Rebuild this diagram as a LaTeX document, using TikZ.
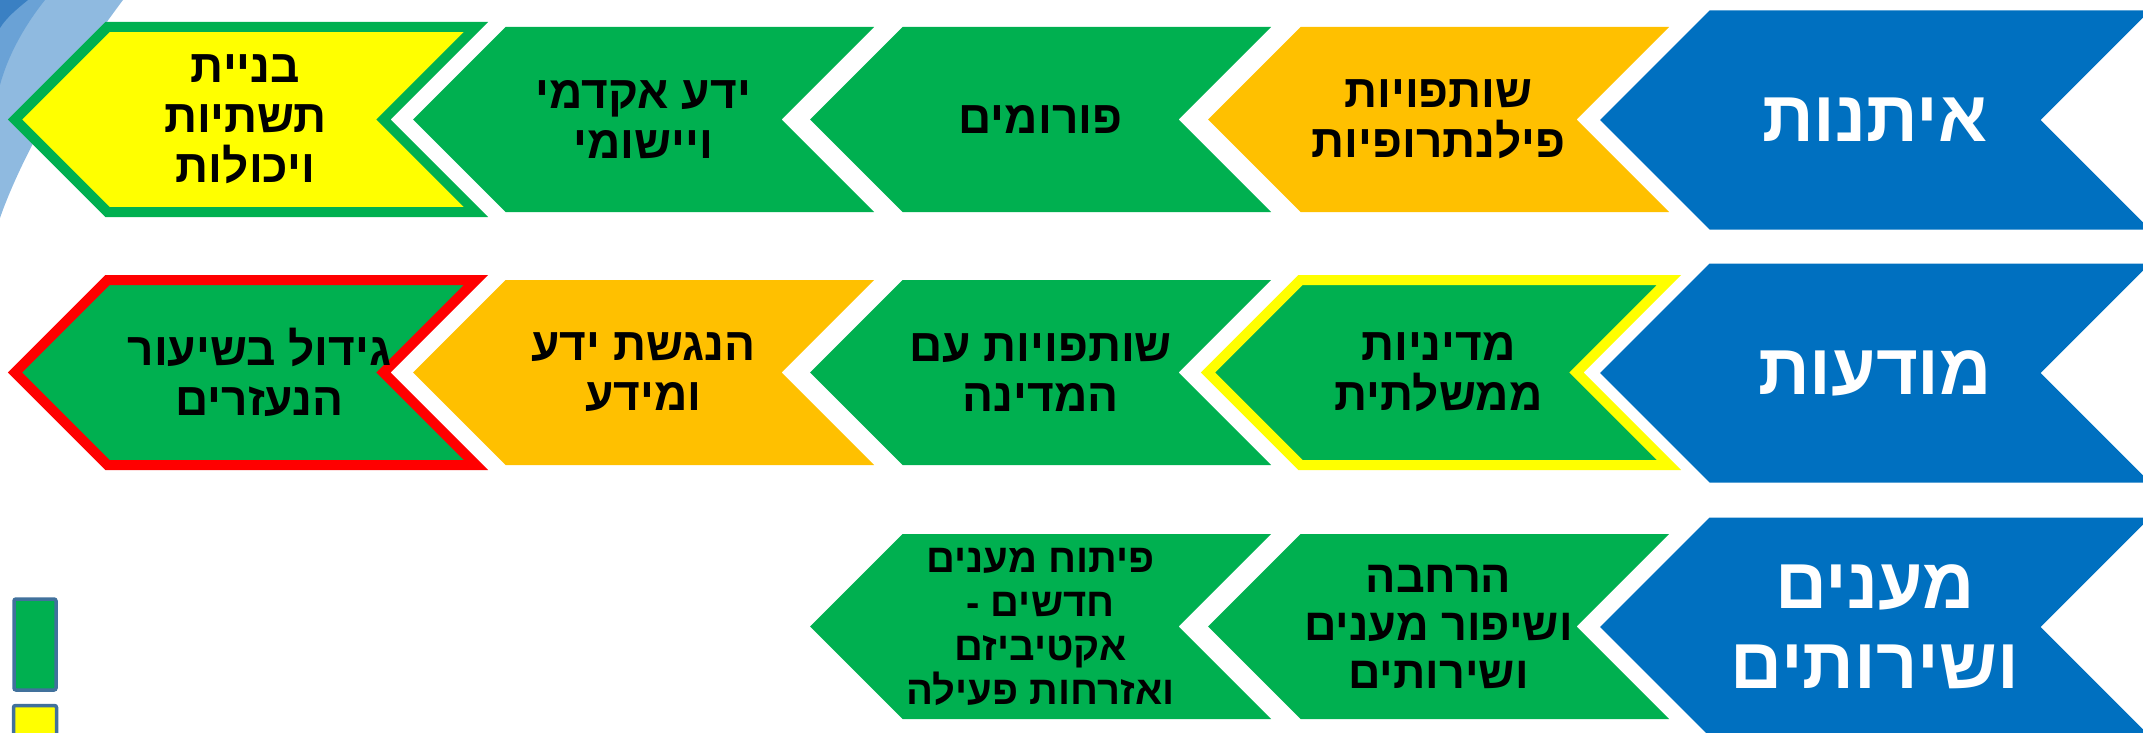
\documentclass[tikz,border=0pt]{standalone}
\usepackage{fontspec}
\usepackage{tikz}
\usetikzlibrary{positioning, calc}
\newfontfamily\hebfont[Script=Hebrew]{Liberation Sans}
\TeXXeTstate=1

\definecolor{headblue}{HTML}{0070C0}
\definecolor{grn}{HTML}{00B050}
\definecolor{orng}{HTML}{FFC000}
\definecolor{ylw}{HTML}{FFFF00}
\definecolor{rd}{HTML}{FF0000}
\definecolor{keyframe}{HTML}{41719C}
\definecolor{swooshlight}{HTML}{8FBAE0}
\definecolor{swooshmid}{HTML}{6AA2D6}
\definecolor{swooshdark}{HTML}{3A80C3}

% chevron: [style]{name}{tip x}{centre y}{half height}{width}
\newcommand{\chev}[6][]{%
	\path[#1] (#3,#4) -- ++(#5,-#5) -- (#3+#6,#4-#5) -- ++(-#5,#5) -- ++(#5,#5) -- (#3+#5,#4+#5) -- cycle;
	\coordinate (#2) at (#3+#6/2,#4);}

\tikzset{
	headchev/.style = {fill=headblue},
	stepgreen/.style = {fill=grn},
	steporange/.style = {fill=orng},
	goalbox/.style = {line width=10pt, line join=miter},
	headtext/.style = {font=\hebfont\bfseries\fontsize{72}{80}\selectfont, text=white, align=center},
	chevtext/.style = {font=\hebfont\bfseries\fontsize{46}{50}\selectfont, text=black, align=center},
	smalltext/.style = {font=\hebfont\bfseries\fontsize{40}{44}\selectfont, text=black, align=center},
	keybox/.style = {draw=keyframe, line width=3.5pt, rounded corners=2pt, inner sep=0pt}
}

\begin{document}
\begin{tikzpicture}[x=1pt, y=-1pt]
						\useasboundingbox (0,0) rectangle (2143,733);

						\fill[swooshlight] (0,0) -- (123,0) .. controls (70,70) and (20,160) .. (0,218) -- cycle;
						\fill[swooshmid] (0,0) -- (45,0) .. controls (25,25) and (8,55) .. (0,85) -- cycle;
						\fill[swooshdark] (0,0) -- (28,0) .. controls (18,8) and (6,18) .. (0,28) -- cycle;

						% row 1
						\chev[headchev]{r1c1}{1600}{120}{109.5}{550}
						\chev[steporange]{r1c2}{1208}{119.5}{92.5}{461}
						\chev[stepgreen]{r1c3}{810}{119.5}{92.5}{461}
						\chev[stepgreen]{r1c4}{413}{119.5}{92.5}{461}
						\chev[goalbox, fill=ylw, draw=grn]{r1c5}{15}{119.5}{92.5}{461}

						\node[headtext] (itanut) at (r1c1) {\beginR איתנות\endR};
						\node[chevtext] (philanthropy) at (r1c2) {\beginR שותפויות\endR\\\beginR פילנתרופיות\endR};
						\node[chevtext] (forums) at (r1c3) {\beginR פורומים\endR};
						\node[chevtext] (academic) at (r1c4) {\beginR ידע אקדמי\endR\\\beginR ויישומי\endR};
						\node[chevtext] (infra) at (r1c5) {\beginR בניית\endR\\\beginR תשתיות\endR\\\beginR ויכולות\endR};

						% row 2
						\chev[headchev]{r2c1}{1600}{373}{109.5}{550}
						\chev[goalbox, fill=grn, draw=ylw]{r2c2}{1208}{372.5}{92.5}{461}
						\chev[stepgreen]{r2c3}{810}{372.5}{92.5}{461}
						\chev[steporange]{r2c4}{413}{372.5}{92.5}{461}
						\chev[goalbox, fill=grn, draw=rd]{r2c5}{15}{372.5}{92.5}{461}

						\node[headtext] (awareness) at (r2c1) {\beginR מודעות\endR};
						\node[chevtext] (policy) at (r2c2) {\beginR מדיניות\endR\\\beginR ממשלתית\endR};
						\node[chevtext] (state) at (r2c3) {\beginR שותפויות עם\endR\\\beginR המדינה\endR};
						\node[chevtext] (access) at (r2c4) {\beginR הנגשת ידע\endR\\\beginR ומידע\endR};
						\node[chevtext, xshift=14pt] (growth) at (r2c5) {\beginR גידול בשיעור\endR\\\beginR הנעזרים\endR};

						% row 3
						\chev[headchev]{r3c1}{1600}{627}{109.5}{550}
						\chev[stepgreen]{r3c2}{1208}{626.5}{92.5}{461}
						\chev[stepgreen]{r3c3}{810}{626.5}{92.5}{461}

						\node[headtext] (services) at (r3c1) {\beginR מענים\endR\\\beginR ושירותים\endR};
						\node[chevtext, font=\hebfont\bfseries\fontsize{45}{48}\selectfont] (expand) at (r3c2) {\beginR הרחבה\endR\\\beginR ושיפור מענים\endR\\\beginR ושירותים\endR};
						\node[smalltext] (newservices) at (r3c3) {\beginR פיתוח מענים\endR\\\beginR חדשים -\endR\\\beginR אקטיביזם\endR\\\beginR ואזרחות פעילה\endR};

						% key
						\node[keybox, fill=grn, minimum width=42pt, minimum height=91pt] (keygreen) at (35,644.5) {};
						\node[keybox, fill=ylw, minimum width=43pt, minimum height=80pt, below=12pt of keygreen.south, anchor=north] (keyyellow) {};
				\end{tikzpicture}
\end{document}
